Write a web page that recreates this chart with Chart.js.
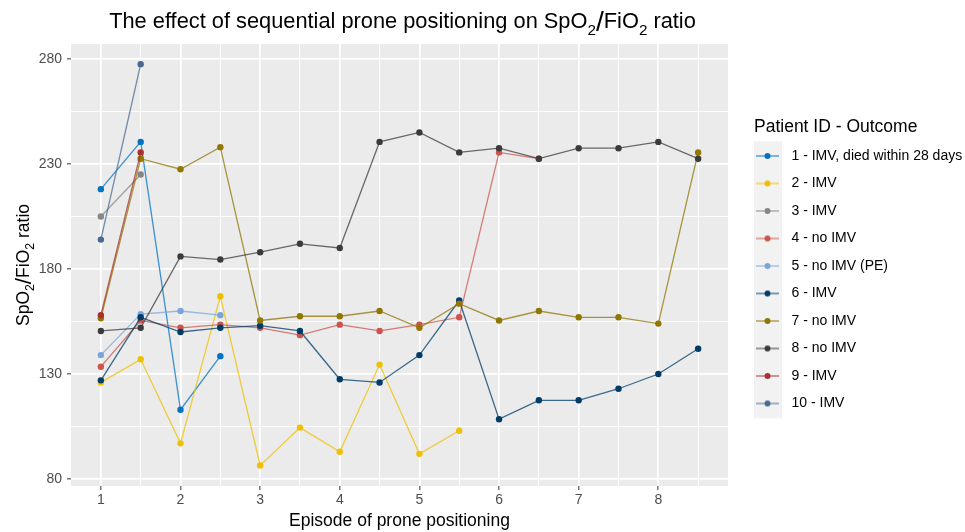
<!DOCTYPE html>
<html><head><meta charset="utf-8">
<script src="https://cdn.jsdelivr.net/npm/chart.js@4.4.1/dist/chart.umd.min.js"></script>
<style>html,body{margin:0;padding:0;background:#fff}#wrap{width:965px;height:532px;position:relative}</style>
</head><body><div id="wrap"><canvas id="c"></canvas></div>
<script>
// ---- data ----
const episodes = [1, 1.5, 2, 2.5, 3, 3.5, 4, 4.5, 5, 5.5, 6, 6.5, 7, 7.5, 8, 8.5];
const seriesLabels = ['1 - IMV, died within 28 days', '2 - IMV', '3 - IMV', '4 - no IMV', '5 - no IMV (PE)',
                      '6 - IMV', '7 - no IMV', '8 - no IMV', '9 - IMV', '10 - IMV'];
const patient1 = [218, 240.5, 113, 138.5];
const patient2 = [126, 137, 97, 167, 86.5, 104.5, 93, 134.5, 92, 103];
const patient3 = [205, 225];
const patient4 = [133.5, 155.5, 152, 153.5, 152, 148.5, 153.5, 150.5, 153.5, 157, 235.5, 232.5];
const patient5 = [139, 158.5, 160, 158];
const patient6 = [127, 157, 150, 152, 153, 150.5, 127.5, 126, 139, 165, 108.5, 117.5, 117.5, 123, 130, 142];
const patient7 = [156.5, 232.5, 227.5, 238, 155.5, 157.5, 157.5, 160, 152, 163.5, 155.5, 160, 157, 157, 154, 235.5];
const patient8 = [150.5, 152, 186, 184.5, 188, 192, 190, 240.5, 245, 235.5, 237.5, 232.5, 237.5, 237.5, 240.5, 232.5];
const patient9 = [158, 235.5];
const patient10 = [194, 277.5];
const seriesValues = [patient1, patient2, patient3, patient4, patient5, patient6, patient7, patient8, patient9, patient10];
const xTickLabels = [1, 2, 3, 4, 5, 6, 7, 8];
const xGridValues = [1, 1.5, 2, 2.5, 3, 3.5, 4, 4.5, 5, 5.5, 6, 6.5, 7, 7.5, 8, 8.5];
const yTickLabels = [80, 130, 180, 230, 280];
const yGridValues = [80, 105, 130, 155, 180, 205, 230, 255, 280];

// ---- styles ----
const seriesColors = ['#0073C2', '#EFC000', '#868686', '#CD534C', '#7AA6DC', '#003C67', '#8F7700', '#3B3B3B', '#A73030', '#4A6990'];
const FONT = "'Liberation Sans', Arial, sans-serif";
Chart.defaults.font.family = FONT;
const PANEL_LEFT = 71, PANEL_TOP = 44, PANEL_RIGHT = 728, PANEL_BOTTOM = 486;
const LEGEND_X = 754;
const W = 965, H = 532;

function rgba(hex, a) {
  const n = parseInt(hex.slice(1), 16);
  return `rgba(${(n >> 16) & 255},${(n >> 8) & 255},${n & 255},${a})`;
}
const LINE_ALPHA = 0.75;

function makeKey(color) {
  const c = document.createElement('canvas');
  c.width = 64; c.height = 30;
  const g = c.getContext('2d');
  g.fillStyle = '#F2F2F2';
  g.fillRect(10, 0.5, 28, 29);
  g.strokeStyle = rgba(color, LINE_ALPHA);
  g.lineWidth = 1.3;
  g.beginPath(); g.moveTo(12, 15); g.lineTo(35, 15); g.stroke();
  g.fillStyle = color;
  g.beginPath(); g.arc(23.5, 15, 3, 0, Math.PI * 2); g.fill();
  return c;
}
const keyCanvases = seriesColors.map(makeKey);

function drawRich(ctx, parts, size, color) {
  const pieces = parts.map(([t, kind]) => {
    const s = kind === 1 ? size * 0.7 : kind === 2 ? size * 1.3 : size;
    ctx.font = `${s}px ${FONT}`;
    return { t, kind, s, w: ctx.measureText(t).width };
  });
  const total = pieces.reduce((a, p) => a + p.w, 0);
  let x = -total / 2;
  ctx.fillStyle = color;
  ctx.textBaseline = 'alphabetic';
  ctx.textAlign = 'left';
  for (const p of pieces) {
    ctx.font = `${p.s}px ${FONT}`;
    const dy = p.kind === 1 ? size * 0.3 : p.kind === 2 ? size * 0.12 : 0;
    ctx.fillText(p.t, x, dy);
    x += p.w;
  }
}

const decorPlugin = {
  id: 'decor',
  beforeLayout(chart) {
    const lg = chart.legend;
    if (lg && !lg._fixed) {
      const orig = lg.fit;
      lg.fit = function () { orig.call(this); this.width = W - PANEL_RIGHT; };
      lg._fixed = true;
    }
  },
  afterLayout(chart) {
    const lg = chart.legend;
    if (lg) { const w = lg.width; lg.left = LEGEND_X; lg.right = LEGEND_X + w; }
  },
  beforeDraw(chart) {
    const { ctx, chartArea: a } = chart;
    ctx.save();
    ctx.fillStyle = '#FFFFFF';
    ctx.fillRect(0, 0, chart.width, chart.height);
    ctx.fillStyle = '#EBEBEB';
    ctx.fillRect(a.left, a.top, a.right - a.left, a.bottom - a.top);
    ctx.restore();
  },
  afterDraw(chart) {
    const { ctx, chartArea: a } = chart;
    // main title
    ctx.save();
    ctx.translate((a.left + a.right) / 2 + 3, 28);
    drawRich(ctx, [['The effect of sequential prone positioning on SpO', 0], ['2', 1], ['/', 2], ['FiO', 0], ['2', 1], [' ratio', 0]], 21.8, '#000');
    ctx.restore();
    // y axis title
    ctx.save();
    ctx.translate(29, (a.top + a.bottom) / 2);
    ctx.rotate(-Math.PI / 2);
    drawRich(ctx, [['SpO', 0], ['2', 1], ['/', 2], ['FiO', 0], ['2', 1], [' ratio', 0]], 17.5, '#000');
    ctx.restore();
  }
};

const isMajorX = v => xTickLabels.includes(v);
const isMajorY = v => yTickLabels.includes(v);

new Chart(document.getElementById('c'), {
  type: 'line',
  data: {
    datasets: seriesValues.map((vals, i) => ({
      label: seriesLabels[i],
      data: vals.map((v, j) => ({ x: episodes[j], y: v })),
      borderColor: rgba(seriesColors[i], LINE_ALPHA),
      backgroundColor: seriesColors[i],
      pointBackgroundColor: seriesColors[i],
      pointBorderWidth: 0,
      pointRadius: 3.2,
      pointHoverRadius: 3.2,
      borderWidth: 1.3,
      tension: 0,
      fill: false,
      order: seriesValues.length - i
    }))
  },
  options: {
    responsive: true,
    maintainAspectRatio: false,
    devicePixelRatio: 1,
    animation: false,
    events: [],
    layout: { padding: { top: PANEL_TOP, left: 0, right: 0, bottom: 0 } },
    scales: {
      x: {
        type: 'linear', min: 0.625, max: 8.875,
        afterBuildTicks: s => { s.ticks = xGridValues.map(v => ({ value: v })); },
        afterFit: s => { s.height = H - PANEL_BOTTOM; },
        ticks: { autoSkip: false, maxRotation: 0, minRotation: 0, color: '#4D4D4D', font: { size: 14 }, padding: 2,
                 callback: v => isMajorX(v) ? String(v) : '' },
        grid: { color: '#FFFFFF', lineWidth: c => isMajorX(c.tick.value) ? 1.7 : 0.9, drawTicks: true, tickLength: 4,
                tickColor: c => isMajorX(c.tick.value) ? '#333333' : 'rgba(0,0,0,0)', tickWidth: 1 },
        border: { display: false },
        title: { display: true, text: 'Episode of prone positioning', color: '#000', font: { size: 17.5 }, padding: { top: 0, bottom: 0.5 } }
      },
      y: {
        type: 'linear', min: 76.7, max: 287.1,
        afterBuildTicks: s => { s.ticks = yGridValues.map(v => ({ value: v })); },
        afterFit: s => { s.width = PANEL_LEFT; },
        ticks: { autoSkip: false, color: '#4D4D4D', font: { size: 14 }, padding: 5,
                 callback: v => isMajorY(v) ? String(v) : '' },
        grid: { color: '#FFFFFF', lineWidth: c => isMajorY(c.tick.value) ? 1.7 : 0.9, drawTicks: true, tickLength: 4,
                tickColor: c => isMajorY(c.tick.value) ? '#333333' : 'rgba(0,0,0,0)', tickWidth: 1 },
        border: { display: false }
      }
    },
    plugins: {
      title: { display: false },
      tooltip: { enabled: false },
      legend: {
        display: true, position: 'right', align: 'start',
        title: { display: true, text: 'Patient ID - Outcome', color: '#000', position: 'start',
                 font: { size: 17.5, lineHeight: 1 }, padding: { top: 74, bottom: 0 } },
        labels: {
          usePointStyle: true, pointStyleWidth: 17, padding: 13.5, font: { size: 14 }, color: '#000',
          generateLabels: () => seriesLabels.map((t, i) => ({
            text: t, fillStyle: seriesColors[i], strokeStyle: seriesColors[i], lineWidth: 0,
            pointStyle: keyCanvases[i], hidden: false, datasetIndex: i, fontColor: '#000'
          }))
        }
      }
    }
  },
  plugins: [decorPlugin]
});
</script>
</body></html>
